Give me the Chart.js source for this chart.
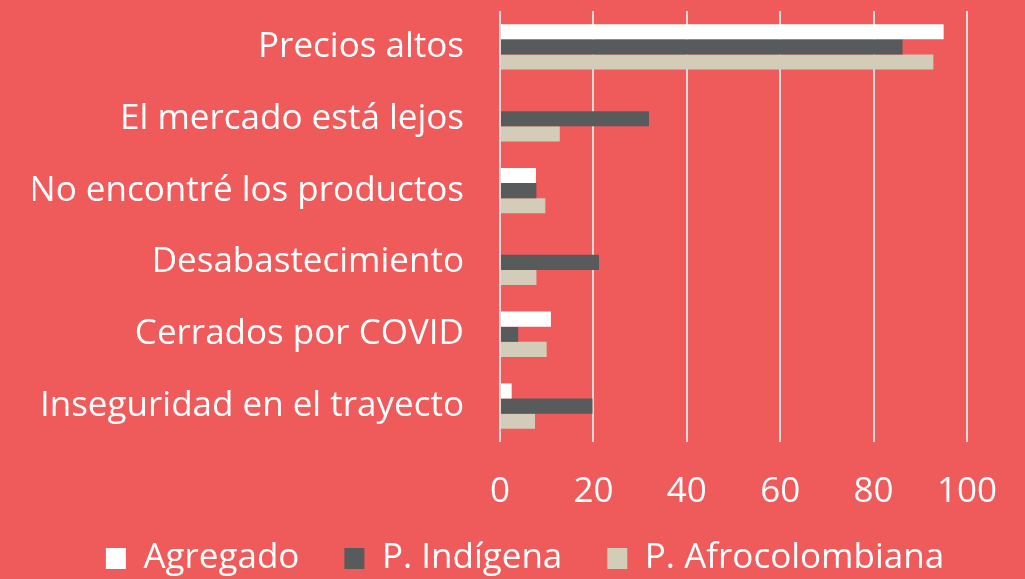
<!DOCTYPE html>
<html>
<head>
<meta charset="utf-8">
<script src="https://cdn.jsdelivr.net/npm/chart.js@4"></script>
<style>
  html, body { margin: 0; padding: 0; background: #EF5A5B; }
  #wrap { width: 1025px; height: 579px; }
</style>
</head>
<body>
<div id="wrap"><canvas id="chart" width="1025" height="579"></canvas></div>
<script>
// categories (top to bottom)
const razones = [
    "Precios altos",
    "El mercado está lejos",
    "No encontré los productos",
    "Desabastecimiento",
    "Cerrados por COVID",
    "Inseguridad en el trayecto"
];

// percentages
const agregado = [95, 0, 7.7, 0, 10.9, 2.5];
const indigena = [86.2, 31.9, 7.8, 21.2, 3.9, 19.8];
const afro = [92.8, 12.8, 9.7, 7.8, 10, 7.5];

const xTicks = [0, 20, 40, 60, 80, 100];

const fontFamily = "'Open Sans', 'Noto Sans', sans-serif";

const bgPlugin = {
    id: "bg",
    beforeDraw(chart) {
        const ctx = chart.ctx;
        ctx.save();
        ctx.fillStyle = "#EF5A5B";
        ctx.fillRect(0, 0, chart.width, chart.height);
        ctx.restore();
    }
};

// move the legend row up and a bit right, centred on the whole picture
const legendNudge = {
    id: "legendNudge",
    afterLayout(chart) {
        const lg = chart.legend;
        if (!lg) return;
        lg.top -= 19;
        lg.height = lg.bottom - lg.top;
        lg.left += 25;
        lg.right += 25;
    }
};

new Chart(document.getElementById("chart").getContext("2d"), {
    type: "bar",
    data: {
        labels: razones,
        datasets: [
            { label: "Agregado", data: agregado, backgroundColor: "#FFFFFF" },
            { label: "P. Indígena", data: indigena, backgroundColor: "#575B5C" },
            { label: "P. Afrocolombiana", data: afro, backgroundColor: "#D3CCB9" }
        ]
    },
    options: {
        indexAxis: "y",
        responsive: false,
        animation: false,
        layout: { padding: { top: 11, right: 58, left: 33, bottom: 0 } },
        datasets: { bar: { categoryPercentage: 0.63, barPercentage: 1.0 } },
        scales: {
            x: {
                min: 0,
                max: 100,
                afterBuildTicks(axis) {
                    axis.ticks = xTicks.map(v => ({ value: v }));
                },
                afterFit(axis) {
                    axis.paddingLeft = 0;
                    axis.paddingRight = 0;
                    axis.height = 73;
                },
                grid: { color: "#D9D9D9", lineWidth: 2, drawTicks: false },
                border: { display: false },
                ticks: {
                    color: "#FFFFFF",
                    padding: 29,
                    font: { family: fontFamily, size: 35 }
                }
            },
            y: {
                afterFit(axis) {
                    axis.paddingTop = 0;
                    axis.paddingBottom = 0;
                },
                grid: { display: false, drawTicks: false },
                border: { display: false },
                ticks: {
                    color: "#FFFFFF",
                    padding: 36,
                    font: { family: fontFamily, size: 35 }
                }
            }
        },
        plugins: {
            tooltip: { enabled: false },
            legend: {
                position: "bottom",
                maxHeight: 64,
                labels: {
                    color: "#FFFFFF",
                    boxWidth: 20,
                    boxHeight: 21,
                    padding: 45,
                    font: { family: fontFamily, size: 35 }
                }
            }
        }
    },
    plugins: [bgPlugin, legendNudge]
});
</script>
</body>
</html>
